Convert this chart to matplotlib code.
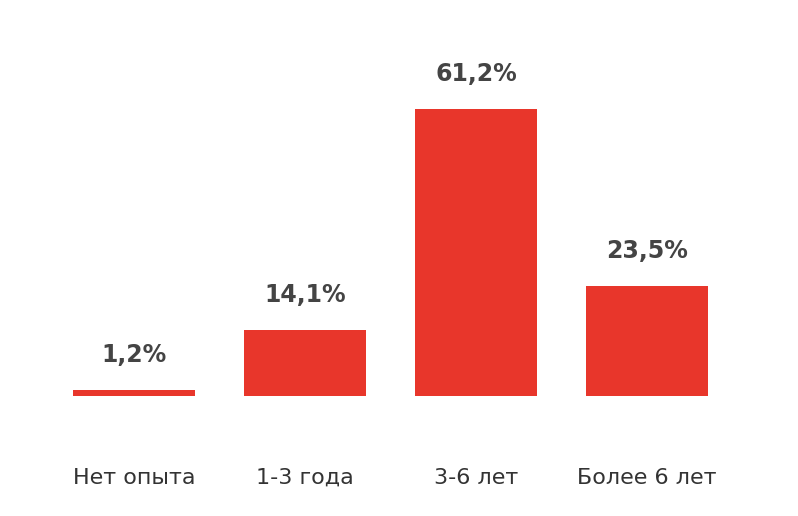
import matplotlib.pyplot as plt

categories = ['Нет опыта', '1-3 года', '3-6 лет', 'Более 6 лет']
values = [1.2, 14.1, 61.2, 23.5]
labels = ['1,2%', '14,1%', '61,2%', '23,5%']

fig = plt.figure(figsize=(7.98, 5.16), dpi=100)
ax = fig.add_axes([48.5 / 798, 120 / 516, 684 / 798, 396 / 516])
x = range(len(values))
ax.bar(x, values, width=0.71, color='#e8362b')
for xi, v, lab in zip(x, values, labels):
    ax.text(xi, v + 7.5, lab, ha='center', va='center', fontsize=17,
            color='#444444', fontweight='bold', family='DejaVu Sans')
    ax.text(xi, -17.5, categories[xi], ha='center', va='center',
            fontsize=16, color='#333333')
ax.set_xlim(-0.5, 3.5)
ax.set_ylim(0, 84.4)
ax.axis('off')
fig.savefig('out.png', dpi=100)
